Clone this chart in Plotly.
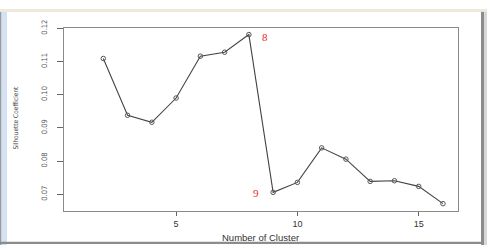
import plotly.graph_objects as go

clusters = [2, 3, 4, 5, 6, 7, 8, 9, 10, 11, 12, 13, 14, 15, 16]
silhouette = [0.1109, 0.0938, 0.0917, 0.0990, 0.1116, 0.1128, 0.1181, 0.0706,
              0.0736, 0.0840, 0.0806, 0.0739, 0.0741, 0.0724, 0.0672]
x_ticks = [5, 10, 15]
y_ticks = [0.07, 0.08, 0.09, 0.10, 0.11, 0.12]

W, H = 487, 245
NARROW = "Liberation Sans Narrow, DejaVu Sans Condensed, Liberation Sans, sans-serif"

def px(x):
    return x / W

def py(y):
    return 1 - y / H

fig = go.Figure()
fig.add_trace(go.Scatter(
    x=clusters, y=silhouette, mode="lines+markers",
    line=dict(color="#444444", width=1.1),
    marker=dict(symbol="circle-open", size=4.5, color="#555555", line=dict(width=1)),
    showlegend=False, hoverinfo="skip"))

fig.update_layout(
    width=W, height=H,
    margin=dict(l=0, r=0, t=0, b=0),
    paper_bgcolor="white", plot_bgcolor="white",
    font=dict(family="Liberation Sans, Arial, sans-serif", color="#444444"),
    xaxis=dict(domain=[px(64), px(458)], range=[0.38, 16.62],
               tickvals=x_ticks, ticktext=[str(v) for v in x_ticks],
               showgrid=False, zeroline=False,
               showline=True, mirror=True, linecolor="#8a8a8a", linewidth=1,
               ticks="outside", ticklen=4, tickcolor="#666666",
               tickfont=dict(size=9, color="#333333")),
    yaxis=dict(domain=[py(210), py(20)], range=[0.0649, 0.12],
               tickvals=y_ticks, ticktext=["%.2f" % v for v in y_ticks],
               tickangle=-90, ticklabelstandoff=7,
               showgrid=False, zeroline=False,
               showline=True, mirror=True, linecolor="#8a8a8a", linewidth=1,
               ticks="outside", ticklen=6, tickcolor="#666666",
               tickfont=dict(family=NARROW, size=7.5, color="#555555")),
)

# axis titles
fig.add_annotation(xref="paper", yref="paper", x=px(260), y=py(237),
                   xanchor="center", yanchor="middle",
                   text="Number of Cluster", showarrow=False,
                   font=dict(size=9.5, color="#333333"))
fig.add_annotation(xref="paper", yref="paper", x=px(15.7), y=py(113),
                   xanchor="center", yanchor="middle",
                   text="Silhouette Coefficient", showarrow=False, textangle=-90,
                   font=dict(family=NARROW, size=6.5, color="#444444"))

fig.add_annotation(x=8.68, y=0.1175, text="8", showarrow=False,
                   font=dict(family="Liberation Serif, serif", size=11, color="#e8281e"))
fig.add_annotation(x=8.31, y=0.0705, text="9", showarrow=False,
                   font=dict(family="Liberation Serif, serif", size=11, color="#e8281e"))

# page borders of the original screenshot
shapes = [
    dict(type="rect", xref="paper", yref="paper", x0=0, x1=1, y0=py(3), y1=1,
         fillcolor="#efe9dd", line=dict(width=0), layer="below"),
    dict(type="rect", xref="paper", yref="paper", x0=px(1), x1=px(7), y0=0, y1=py(3),
         fillcolor="#d4e2f3", line=dict(width=0), layer="below"),
    dict(type="rect", xref="paper", yref="paper", x0=0, x1=px(1.2), y0=0, y1=py(3),
         fillcolor="#9a9a9a", line=dict(width=0), layer="below"),
    dict(type="rect", xref="paper", yref="paper", x0=px(481), x1=px(484), y0=0, y1=py(3),
         fillcolor="#8c8c8c", line=dict(width=0), layer="below"),
    dict(type="rect", xref="paper", yref="paper", x0=px(484), x1=1, y0=0, y1=py(3),
         fillcolor="#d8d8d8", line=dict(width=0), layer="below"),
    dict(type="rect", xref="paper", yref="paper", x0=0, x1=px(484), y0=py(244), y1=py(241.5),
         fillcolor="#8c8c8c", line=dict(width=0), layer="below"),
]
fig.update_layout(shapes=shapes)

fig.write_html("out.html")
